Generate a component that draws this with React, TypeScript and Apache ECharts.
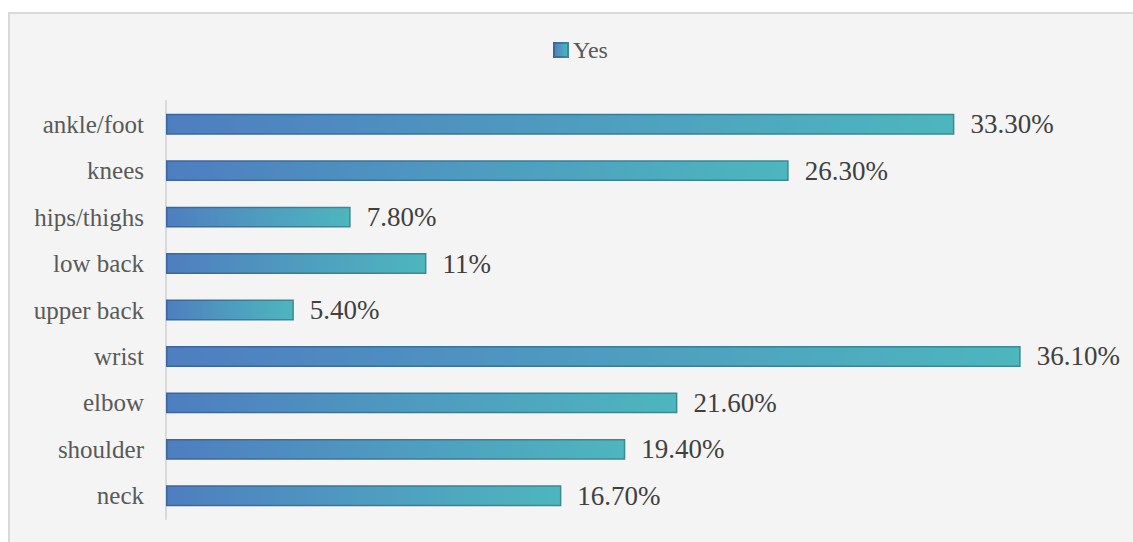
import React, { useEffect, useRef } from "react";
import * as echarts from "echarts";

const categories = ["ankle/foot", "knees", "hips/thighs", "low back", "upper back", "wrist", "elbow", "shoulder", "neck"];
const yesValues = [33.3, 26.3, 7.8, 11, 5.4, 36.1, 21.6, 19.4, 16.7];
const seriesName = "Yes";
const xMax = 40;

const FONT = "'Liberation Serif', 'Times New Roman', serif";

function fmt(v: number): string {
  return Number.isInteger(v) ? `${v}%` : `${v.toFixed(2)}%`;
}

export default function App() {
  const ref = useRef<HTMLDivElement>(null);
  useEffect(() => {
    if (!ref.current) return;
    const chart = echarts.init(ref.current, undefined, { renderer: "svg" });
    const fill = new echarts.graphic.LinearGradient(0, 0, 1, 0, [
      { offset: 0, color: "#4e7ebf" },
      { offset: 0.5, color: "#4e9cbf" },
      { offset: 1, color: "#4db6be" },
    ]);
    const stroke = new echarts.graphic.LinearGradient(0, 0, 1, 0, [
      { offset: 0, color: "#3a659e" },
      { offset: 1, color: "#3a8b93" },
    ]);
    chart.setOption({
      animation: false,
      backgroundColor: "transparent",
      textStyle: { fontFamily: FONT },
      legend: {
        left: 553,
        top: 38,
        padding: 0,
        itemWidth: 14,
        itemHeight: 14,
        icon: "rect",
        textStyle: { fontFamily: FONT, fontSize: 24, color: "#595959" },
        data: [seriesName],
      },
      grid: { left: 166, top: 101, width: 947, height: 418, containLabel: false },
      xAxis: {
        type: "value",
        min: 0,
        max: xMax,
        show: false,
        splitLine: { show: false },
      },
      yAxis: {
        type: "category",
        inverse: true,
        data: categories,
        axisLine: { show: true, lineStyle: { color: "#d9d9d9", width: 2 } },
        axisTick: { show: false },
        axisLabel: { margin: 22, fontFamily: FONT, fontSize: 25, color: "#595959" },
      },
      series: [
        {
          name: seriesName,
          type: "bar",
          data: yesValues,
          barCategoryGap: "55%",
          itemStyle: { color: fill, borderColor: stroke, borderWidth: 1.5 },
          label: {
            show: true,
            position: "right",
            distance: 16,
            fontFamily: FONT,
            fontSize: 27,
            color: "#404040",
            formatter: (p: any) => fmt(p.value as number),
          },
        },
      ],
    });
    return () => chart.dispose();
  }, []);
  return (
    <>
      <div
        style={{
          position: "fixed",
          left: 8,
          top: 12,
          width: 1125,
          height: 530,
          boxSizing: "border-box",
          background: "#f4f4f4",
          borderTop: "2px solid #d9d9d9",
          borderLeft: "2px solid #d9d9d9",
        }}
      />
      <div ref={ref} style={{ position: "fixed", left: 0, top: 0, width: 1133, height: 542 }} />
    </>
  );
}
